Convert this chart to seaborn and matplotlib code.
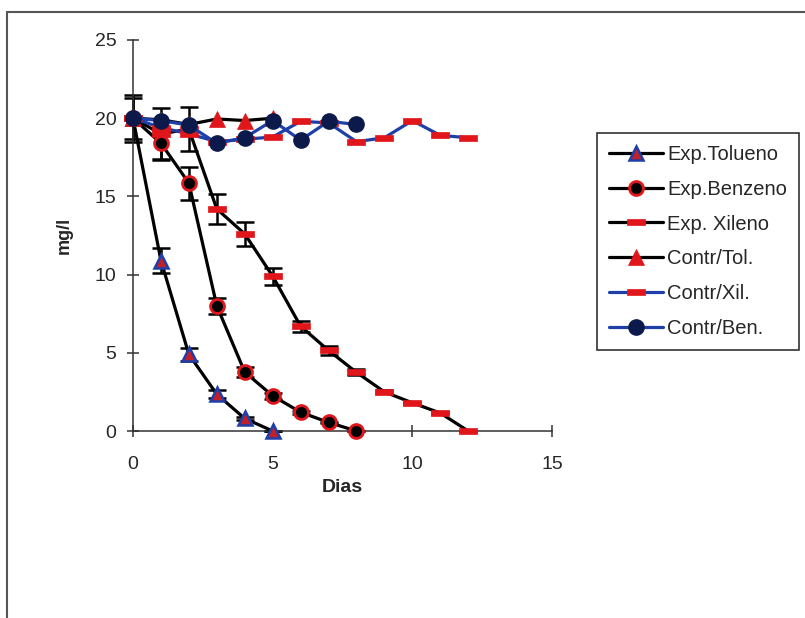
import numpy as np
import pandas as pd
import matplotlib
matplotlib.use("Agg")
import matplotlib.pyplot as plt
import seaborn as sns
from matplotlib.lines import Line2D

# --- data (mg/l per day) ---
dias_tol = [0, 1, 2, 3, 4, 5]
exp_tolueno = [20.0, 10.9, 4.9, 2.35, 0.8, 0.0]
err_tolueno = [1.5, 0.8, 0.4, 0.25, 0.1, 0.0]

dias_ben = [0, 1, 2, 3, 4, 5, 6, 7, 8]
exp_benzeno = [20.0, 18.4, 15.85, 8.0, 3.77, 2.25, 1.2, 0.55, 0.0]
err_benzeno = [1.3, 1.0, 1.05, 0.5, 0.3, 0.2, 0.1, 0.05, 0.0]

dias_xil = [0, 1, 2, 3, 4, 5, 6, 7, 8, 9, 10, 11, 12]
exp_xileno = [20.0, 19.0, 19.3, 14.2, 12.6, 9.9, 6.7, 5.15, 3.75, 2.5, 1.8, 1.15, 0.0]
err_xileno = [0.0, 1.65, 1.4, 0.95, 0.75, 0.55, 0.35, 0.3, 0.2, 0.1, 0.05, 0.05, 0.0]

contr_tol = [20.0, 19.9, 19.6, 19.95, 19.85, 20.0]
contr_xil = [20.0, 19.4, 19.0, 18.5, 18.65, 18.8, 19.8, 19.7, 18.5, 18.75, 19.85, 18.9, 18.75]
contr_ben = [20.0, 19.85, 19.55, 18.4, 18.75, 19.85, 18.6, 19.8, 19.6]

labels = ["Exp.Tolueno", "Exp.Benzeno", "Exp. Xileno", "Contr/Tol.", "Contr/Xil.", "Contr/Ben."]

sns.set_theme(style="white")
plt.rcParams["font.family"] = ["Liberation Sans", "DejaVu Sans"]

RED = "#e0161b"
BLUE = "#1f3fa8"
NAVY = "#0b1a4a"
dash = [(-1, -0.38), (1, -0.38), (1, 0.38), (-1, 0.38), (-1, -0.38)]

W, H = 805, 618
fig = plt.figure(figsize=(W / 100, H / 100), dpi=100)
ax = fig.add_axes([133 / W, 1 - 431 / H, (552 - 133) / W, (431 - 40) / H])

series = [
    (dias_tol, exp_tolueno, err_tolueno, dict(color="black", marker="^", markersize=10,
                                               markerfacecolor="#c0202a", markeredgecolor=BLUE,
                                               markeredgewidth=1.8)),
    (dias_ben, exp_benzeno, err_benzeno, dict(color="black", marker="o", markersize=10,
                                               markerfacecolor="black", markeredgecolor=RED,
                                               markeredgewidth=2)),
    (dias_xil, exp_xileno, err_xileno, dict(color="black", marker=dash, markersize=13,
                                             markerfacecolor=RED, markeredgecolor=RED,
                                             markeredgewidth=0.5)),
    (dias_tol, contr_tol, None, dict(color="black", marker="^", markersize=11,
                                      markerfacecolor=RED, markeredgecolor=RED,
                                      markeredgewidth=0.5)),
    (dias_xil, contr_xil, None, dict(color=BLUE, marker=dash, markersize=13,
                                      markerfacecolor=RED, markeredgecolor=RED,
                                      markeredgewidth=0.5)),
    (dias_ben, contr_ben, None, dict(color=BLUE, marker="o", markersize=11,
                                      markerfacecolor=NAVY, markeredgecolor=NAVY,
                                      markeredgewidth=1)),
]

# error bars sit beneath the marker lines
for x, y, e, _ in series:
    if e is not None:
        ax.errorbar(x, y, yerr=e, fmt="none", ecolor="black", elinewidth=1.8,
                    capsize=6.5, capthick=1.8, zorder=2, clip_on=False)

handles = []
for i, ((x, y, e, style), lab) in enumerate(zip(series, labels)):
    df = pd.DataFrame({"Dias": x, "mg/l": y})
    sns.lineplot(data=df, x="Dias", y="mg/l", ax=ax, linewidth=2.3,
                 zorder=3 + i, clip_on=False, legend=False, **style)
    handles.append(Line2D([], [], linewidth=2.3, label=lab, **style))

ax.set_xlim(0, 15)
ax.set_ylim(0, 25)
ax.set_xticks([0, 5, 10, 15])
ax.set_yticks([0, 5, 10, 15, 20, 25])
for s in ["top", "right"]:
    ax.spines[s].set_visible(False)
for s in ["left", "bottom"]:
    ax.spines[s].set_color("#333333")
    ax.spines[s].set_linewidth(1.1)
ax.tick_params(direction="inout", length=8, width=1.1, color="#333333",
               labelsize=14, bottom=True, left=True)
ax.tick_params(axis="x", pad=14)
ax.tick_params(axis="y", pad=8)
ax.set_xlabel("Dias", fontsize=14, fontweight="bold", labelpad=4)
ax.set_ylabel("mg/l", fontsize=13, fontweight="bold", labelpad=16)

leg = fig.legend(handles=handles, loc="upper left",
                 bbox_to_anchor=(597 / W, 1 - 133 / H), borderaxespad=0,
                 fontsize=14.5, handlelength=2.7, handletextpad=0.2,
                 labelspacing=0.78, borderpad=0.6, frameon=True, fancybox=False)
leg.get_frame().set_edgecolor("black")
leg.get_frame().set_linewidth(1.2)

# outer frame of the figure panel
fig.add_artist(Line2D([7 / W, 7 / W], [0, 1 - 12 / H], color="#555555", linewidth=1.5))
fig.add_artist(Line2D([7 / W, 1], [1 - 12 / H, 1 - 12 / H], color="#555555", linewidth=1.5))

fig.savefig("out.png", dpi=100)
